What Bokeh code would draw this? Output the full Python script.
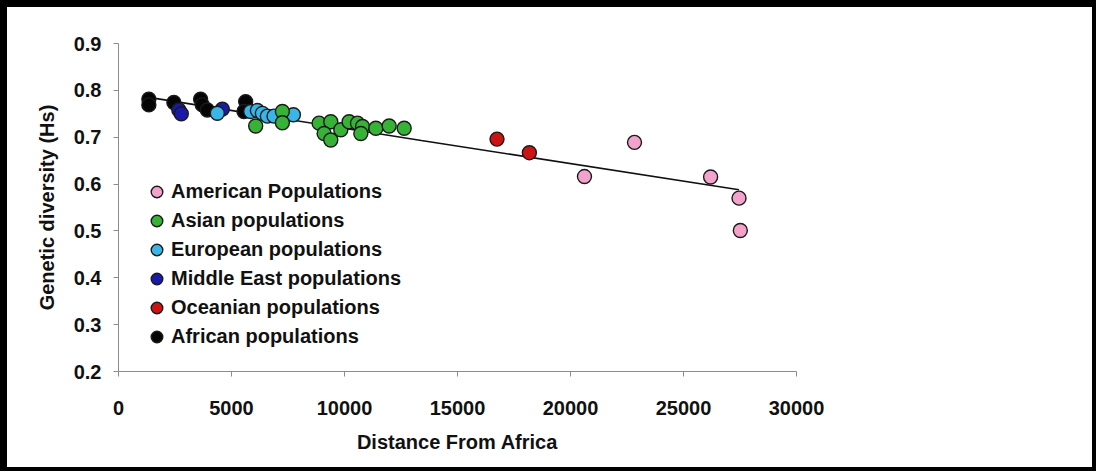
from bokeh.plotting import figure
from bokeh.models import (ColumnDataSource, Legend, LegendItem, FixedTicker,
                          NumeralTickFormatter, Range1d)
from bokeh.embed import file_html
from bokeh.resources import INLINE

# ---------------- data ----------------
american_x = [20618, 22832, 26199, 27457, 27514]
american_y = [0.616, 0.689, 0.615, 0.570, 0.501]

asian_x = [6070, 7252, 7252, 8876, 9393, 9098, 9393, 9836, 10204, 10575,
           10797, 10722, 11387, 11976, 12641]
asian_y = [0.724, 0.755, 0.731, 0.730, 0.733, 0.708, 0.694, 0.716, 0.733,
           0.730, 0.723, 0.708, 0.719, 0.724, 0.719]

european_x = [4372, 5849, 6144, 6366, 6587, 6882, 7739]
european_y = [0.751, 0.755, 0.757, 0.751, 0.745, 0.745, 0.748]

mideast_x = [2670, 2778, 4594]
mideast_y = [0.758, 0.750, 0.760]

oceanian_x = [16748, 18180]
oceanian_y = [0.696, 0.667]

african_x = [1343, 1343, 2450, 3633, 3707, 3930, 5627, 5553]
african_y = [0.781, 0.769, 0.774, 0.781, 0.769, 0.758, 0.776, 0.755]

# trend line
trend_x = [1343, 13400, 27457]
trend_y = [0.785, 0.693, 0.588]

x_ticks = [0, 5000, 10000, 15000, 20000, 25000, 30000]
y_ticks = [0.2, 0.3, 0.4, 0.5, 0.6, 0.7, 0.8, 0.9]

series = [
    ("American Populations", american_x, american_y, "#F3A3CB"),
    ("Asian populations", asian_x, asian_y, "#36B336"),
    ("European populations", european_x, european_y, "#3AB5E8"),
    ("Middle East populations", mideast_x, mideast_y, "#1A1AAA"),
    ("Oceanian populations", oceanian_x, oceanian_y, "#CC1414"),
    ("African populations", african_x, african_y, "#050505"),
]

FONT = "Liberation Sans"

p = figure(width=1085, height=460, output_backend="svg", toolbar_location=None,
           x_range=Range1d(0, 30000), y_range=Range1d(0.2, 0.9),
           min_border_left=111, min_border_right=307,
           min_border_top=36, min_border_bottom=107)
p.styles = {"border-style": "solid", "border-color": "#000000",
            "border-width": "7px 4px 4px 7px", "box-sizing": "content-box"}
p.outline_line_color = None
p.grid.visible = False
p.background_fill_color = "white"
p.border_fill_color = "white"

p.line(trend_x, trend_y, line_color="#111111", line_width=1.6)

renderers = {}
for name, xs, ys, col in series[::-1]:
    src = ColumnDataSource(dict(x=xs, y=ys))
    r = p.scatter("x", "y", source=src, size=14, marker="circle",
                  fill_color=col, line_color="#1a1a1a", line_width=1.4)
    renderers[name] = r
items = [LegendItem(label=name, renderers=[renderers[name]])
         for name, xs, ys, col in series]

legend = Legend(items=items, location=(24, 20), orientation="vertical",
                glyph_width=29, glyph_height=29, label_height=29,
                spacing=0, padding=0, margin=0, label_standoff=0,
                label_text_font=FONT, label_text_font_style="bold",
                label_text_font_size="20px", label_text_color="#111111",
                border_line_color=None, background_fill_alpha=0)
p.add_layout(legend, "center")

for ax in (p.xaxis[0], p.yaxis[0]):
    ax.axis_line_color = "#8c8c8c"
    ax.axis_line_width = 1
    ax.major_tick_line_color = "#8c8c8c"
    ax.major_tick_out = 5
    ax.major_tick_in = 0
    ax.minor_tick_line_color = None
    ax.major_label_text_font = FONT
    ax.major_label_text_font_style = "bold"
    ax.major_label_text_font_size = "20px"
    ax.major_label_text_color = "#111111"
    ax.axis_label_text_font = FONT
    ax.axis_label_text_font_style = "bold"
    ax.axis_label_text_font_size = "20px"
    ax.axis_label_text_color = "#111111"

p.xaxis[0].ticker = FixedTicker(ticks=x_ticks)
p.xaxis[0].formatter = NumeralTickFormatter(format="0")
p.xaxis[0].major_label_standoff = 24
p.xaxis[0].axis_label = "Distance From Africa"
p.xaxis[0].axis_label_standoff = 13

p.yaxis[0].ticker = FixedTicker(ticks=y_ticks)
p.yaxis[0].formatter = NumeralTickFormatter(format="0.0")
p.yaxis[0].major_label_standoff = 12
p.yaxis[0].axis_label = "Genetic diversity (Hs)"
p.yaxis[0].axis_label_standoff = 13

open("out.html", "w").write(file_html(p, INLINE))
